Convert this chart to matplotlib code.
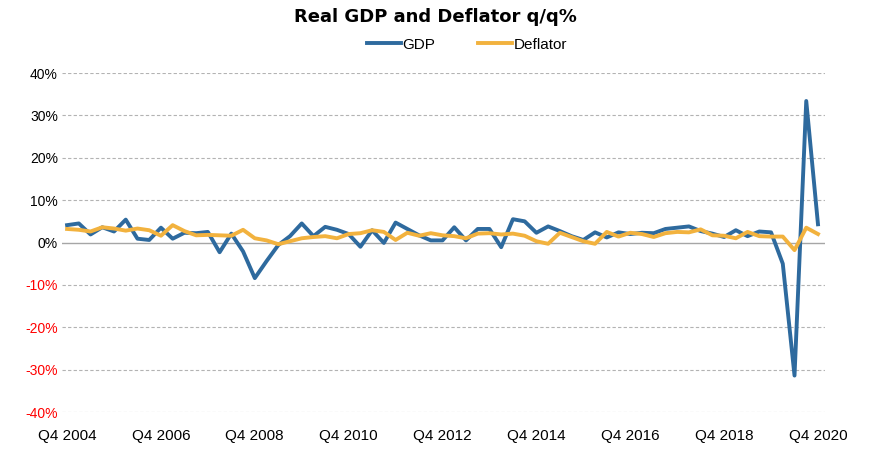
import matplotlib
matplotlib.use("Agg")
import matplotlib.pyplot as plt
import numpy as np

plt.rcParams['font.family'] = ['Liberation Sans Narrow', 'Liberation Sans', 'DejaVu Sans']

# quarterly, Q4 2004 .. Q4 2020 (annualised q/q %)
gdp = [4.1, 4.5, 1.9, 3.6, 2.6, 5.4, 0.9, 0.6, 3.5, 0.9, 2.3, 2.2, 2.5, -2.3, 2.1, -2.1,
       -8.4, -4.4, -0.6, 1.5, 4.5, 1.5, 3.7, 3.0, 2.0, -1.0, 2.9, -0.1, 4.7, 3.2, 1.7, 0.5,
       0.5, 3.6, 0.5, 3.2, 3.2, -1.1, 5.5, 5.0, 2.3, 3.8, 2.7, 1.5, 0.6, 2.4, 1.2, 2.4,
       2.0, 2.3, 2.2, 3.2, 3.5, 3.8, 2.7, 2.1, 1.3, 2.9, 1.5, 2.6, 2.4, -5.0, -31.4, 33.4, 4.3]
deflator = [3.2, 3.0, 2.6, 3.6, 3.3, 2.8, 3.3, 2.9, 1.6, 4.1, 2.7, 1.7, 1.8, 1.7, 1.6, 3.0,
            1.0, 0.5, -0.4, 0.3, 1.0, 1.3, 1.5, 1.0, 2.0, 2.2, 2.9, 2.5, 0.6, 2.3, 1.6, 2.2,
            1.7, 1.5, 1.0, 2.1, 2.2, 1.9, 2.1, 1.6, 0.3, -0.3, 2.3, 1.3, 0.3, -0.3, 2.5, 1.4,
            2.3, 2.0, 1.3, 2.2, 2.5, 2.4, 3.1, 1.7, 1.6, 1.0, 2.5, 1.5, 1.4, 1.4, -1.8, 3.5, 2.0]
tick_labels = ['Q4 2004', 'Q4 2006', 'Q4 2008', 'Q4 2010', 'Q4 2012',
               'Q4 2014', 'Q4 2016', 'Q4 2018', 'Q4 2020']
yticks = [-40, -30, -20, -10, 0, 10, 20, 30, 40]

x = np.arange(len(gdp))

fig = plt.figure(figsize=(8.7, 4.55), dpi=100)
ax = fig.add_axes([0.0713, 0.0945, 0.877, 0.745])

for v in yticks:
    if v == 0:
        ax.axhline(v, color='#a6a6a6', lw=1.0, zorder=1)
    else:
        ax.axhline(v, color='#b3b3b3', lw=0.8, ls=(0, (3, 2)), zorder=1)

ax.plot(x, gdp, color='#2e6a9e', lw=2.8, label='GDP', zorder=3, solid_joinstyle='round')
ax.plot(x, deflator, color='#f2b23e', lw=2.8, label='Deflator', zorder=4, solid_joinstyle='round')

ax.set_xlim(-0.43, 64.6)
ax.set_ylim(-40, 40)
ax.set_yticks(yticks)
ax.set_yticklabels(['%d%%' % v for v in yticks], fontsize=10)
for lab, v in zip(ax.get_yticklabels(), yticks):
    lab.set_color('red' if v < 0 else 'black')
ax.set_xticks(x[::8])
ax.set_xticklabels(tick_labels, fontsize=11)
ax.tick_params(length=0, pad=3)
ax.tick_params(axis='x', pad=12)
for s in ax.spines.values():
    s.set_visible(False)

fig.text(0.5, 0.963, 'Real GDP and Deflator q/q%', ha='center', va='center',
         fontsize=13, fontweight='bold', family=['DejaVu Sans'])
fig.legend(loc='center', bbox_to_anchor=(0.537, 0.902), ncol=2, frameon=False,
           fontsize=11, handlelength=2.2, columnspacing=2.8, handletextpad=0.1)

fig.savefig('out.png', dpi=100)
